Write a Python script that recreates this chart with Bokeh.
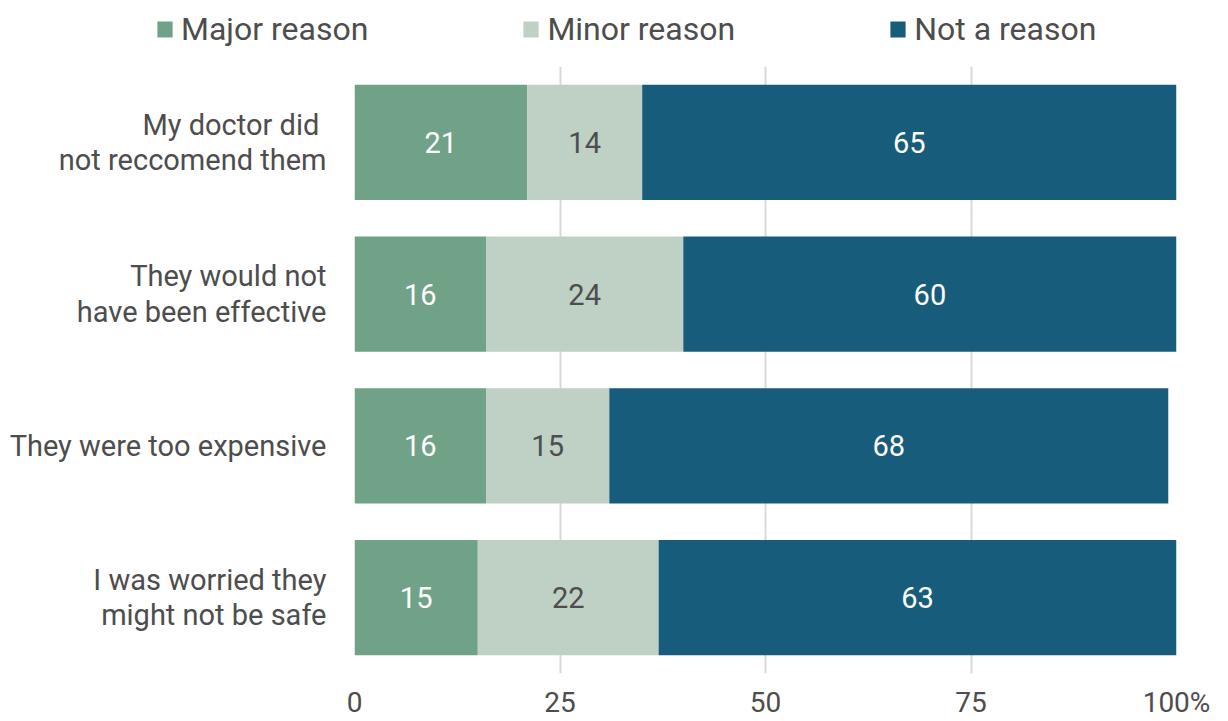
from bokeh.plotting import figure
from bokeh.layouts import column
from bokeh.models import FactorRange, Range1d, ColumnDataSource, FixedTicker, Legend, LegendItem
from bokeh.embed import file_html
from bokeh.resources import INLINE
from bokeh.core.properties import value

categories = ["My doctor did \nnot reccomend them",
              "They would not\nhave been effective",
              "They were too expensive",
              "I was worried they\nmight not be safe"]
major = [21, 16, 16, 15]
minor = [14, 24, 15, 22]
not_reason = [65, 60, 68, 63]
series = ["Major reason", "Minor reason", "Not a reason"]
colors = ["#6FA287", "#BFD0C4", "#175C7B"]
label_colors = ["#FFFFFF", "#4D4D4D", "#FFFFFF"]
x_ticks = [0, 25, 50, 75, 100]
x_tick_labels = ["0", "25", "50", "75", "100%"]

FONT = "Roboto"
TEXT = "#4D4D4D"

src = ColumnDataSource(dict(cat=categories, **{series[0]: major, series[1]: minor, series[2]: not_reason}))

# ---- main chart ----
p = figure(width=1228, height=655, output_backend="svg", toolbar_location=None,
           y_range=FactorRange(factors=list(reversed(categories))),
           x_range=Range1d(0, 100),
           min_border_left=354, min_border_right=52, min_border_top=0, min_border_bottom=47)
p.outline_line_color = None

p.hbar_stack(series, y="cat", height=0.76, color=colors, source=src, line_color=None)

lx, ly, lt, lc = [], [], [], []
vals = [major, minor, not_reason]
for i, cat in enumerate(categories):
    left = 0
    for s in range(3):
        v = vals[s][i]
        lx.append(left + v / 2)
        ly.append(cat)
        lt.append(str(v))
        lc.append(label_colors[s])
        left += v
lsrc = ColumnDataSource(dict(x=lx, y=ly, t=lt, c=lc))
p.text(x="x", y="y", text="t", text_color="c", source=lsrc, text_align="center",
       text_baseline="middle", text_font=value(FONT), text_font_size="29px")

p.xgrid.grid_line_color = "#D9D9D9"
p.xgrid.grid_line_width = 2
p.ygrid.grid_line_color = None

xa = p.xaxis[0]
xa.ticker = FixedTicker(ticks=x_ticks)
xa.major_label_overrides = {t: l for t, l in zip(x_ticks, x_tick_labels)}
xa.axis_line_color = None
xa.major_tick_line_color = None
xa.minor_tick_line_color = None
xa.major_tick_out = 0
xa.major_label_standoff = 12
xa.major_label_text_font = FONT
xa.major_label_text_font_size = "28px"
xa.major_label_text_color = TEXT

ya = p.yaxis[0]
ya.axis_line_color = None
ya.major_tick_line_color = None
ya.minor_tick_line_color = None
ya.major_tick_out = 0
ya.major_label_standoff = 28
ya.major_label_text_line_height = 1.05
ya.major_label_text_font = FONT
ya.major_label_text_font_size = "29px"
ya.major_label_text_color = TEXT

# ---- legend strip ----
lf = figure(width=1228, height=66, output_backend="svg", toolbar_location=None,
            x_range=Range1d(0, 1), y_range=Range1d(0, 1),
            x_axis_location=None, y_axis_location=None,
            min_border_left=0, min_border_right=0, min_border_top=0, min_border_bottom=0)
if "frame_align" in lf.properties():
    lf.frame_align = False
    p.frame_align = False
lf.outline_line_color = None
lf.xgrid.visible = False
lf.ygrid.visible = False
proxies = [lf.vbar(x=[5], top=[1], width=0.5, color=c, line_color=None) for c in colors]
legend = Legend(items=[LegendItem(label=s, renderers=[r]) for s, r in zip(series, proxies)],
                orientation="horizontal", location=(155, 18), padding=0, margin=0,
                spacing=153, glyph_width=19, glyph_height=20, label_standoff=7,
                border_line_color=None, background_fill_alpha=0,
                label_text_font=FONT, label_text_font_size="32px", label_text_color=TEXT)
lf.add_layout(legend, "center")

layout = column(lf, p, spacing=0)
open("out.html", "w").write(file_html(layout, INLINE))
